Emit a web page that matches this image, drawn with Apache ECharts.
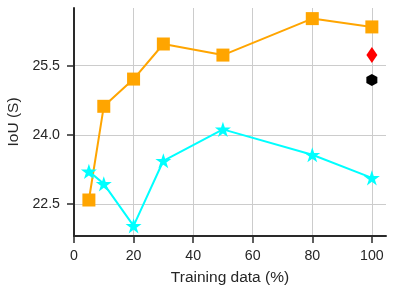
<!DOCTYPE html>
<html>
<head>
<meta charset="utf-8">
<script src="https://cdn.jsdelivr.net/npm/echarts@6/dist/echarts.min.js"></script>
<style>html,body{margin:0;padding:0;background:#fff}#c{width:396px;height:295px}</style>
</head>
<body>
<div id="c"></div>
<script>
const trainingPct = [5, 10, 20, 30, 50, 80, 100];
const orangeIoU = [22.59, 24.62, 25.21, 25.97, 25.73, 26.52, 26.34];
const cyanIoU = [23.21, 22.94, 22.03, 23.44, 24.12, 23.57, 23.07];
const redPoint = [[100, 25.73]];
const blackPoint = [[100, 25.19]];
const xTicks = [0, 20, 40, 60, 80, 100];
const yTicks = [22.5, 24.0, 25.5];

const starPath = 'path://M50,0 L61.2,34.5 L97.6,34.5 L68.2,55.9 L79.4,90.5 L50,69.1 L20.6,90.5 L31.8,55.9 L2.4,34.5 L38.8,34.5 Z';
const hexPath = 'path://M50,0 L93.3,25 L93.3,75 L50,100 L6.7,75 L6.7,25 Z';

const pair = (xs, ys) => xs.map((x, i) => [x, ys[i]]);
const txt = '#262626';
const font = 'Liberation Sans, Arial, sans-serif';

const chart = echarts.init(document.getElementById('c'), null, {renderer: 'canvas'});
chart.setOption({
  animation: false,
  backgroundColor: '#fff',
  grid: {left: 74, right: 10, top: 8, bottom: 59, containLabel: false, outerBoundsMode: 'none'},
  xAxis: {
    type: 'value', min: 0, max: 104.75,
    name: 'Training data (%)', nameLocation: 'middle', nameGap: 34,
    nameTextStyle: {color: txt, fontSize: 15.5, fontFamily: font},
    axisLine: {show: true, lineStyle: {color: '#2a2a2a', width: 2}},
    axisTick: {show: true, length: 7, lineStyle: {color: '#2a2a2a', width: 1.5}, customValues: xTicks},
    axisLabel: {color: txt, fontSize: 14.2, fontFamily: font, margin: 13, customValues: xTicks},
    splitLine: {show: true, lineStyle: {color: '#cccccc', width: 1}}
  },
  yAxis: {
    type: 'value', min: 21.81, max: 26.75,
    name: 'IoU (S)', nameLocation: 'middle', nameGap: 49,
    nameTextStyle: {color: txt, fontSize: 15.5, fontFamily: font},
    axisLine: {show: true, lineStyle: {color: '#2a2a2a', width: 2}},
    axisTick: {show: true, length: 7, lineStyle: {color: '#2a2a2a', width: 1.5}, customValues: yTicks},
    axisLabel: {color: txt, fontSize: 14.2, fontFamily: font, margin: 14, customValues: yTicks, formatter: v => v.toFixed(1)},
    splitLine: {show: true, lineStyle: {color: '#cccccc', width: 1}}
  },
  series: [
    {type: 'line', data: pair(trainingPct, orangeIoU), symbol: 'rect', symbolSize: 13,
     lineStyle: {color: '#FFA500', width: 2}, itemStyle: {color: '#FFA500', opacity: 1}, z: 3},
    {type: 'line', data: pair(trainingPct, cyanIoU), symbol: starPath, symbolSize: 16, symbolKeepAspect: true,
     lineStyle: {color: '#00FFFF', width: 2}, itemStyle: {color: '#00FFFF', opacity: 1}, z: 4},
    {type: 'scatter', data: redPoint, symbol: 'diamond', symbolSize: [11, 16], itemStyle: {color: '#FF0000', opacity: 1}, z: 5},
    {type: 'scatter', data: blackPoint, symbol: hexPath, symbolSize: [11, 12], itemStyle: {color: '#000000', opacity: 1}, z: 5}
  ]
});
</script>
</body>
</html>
